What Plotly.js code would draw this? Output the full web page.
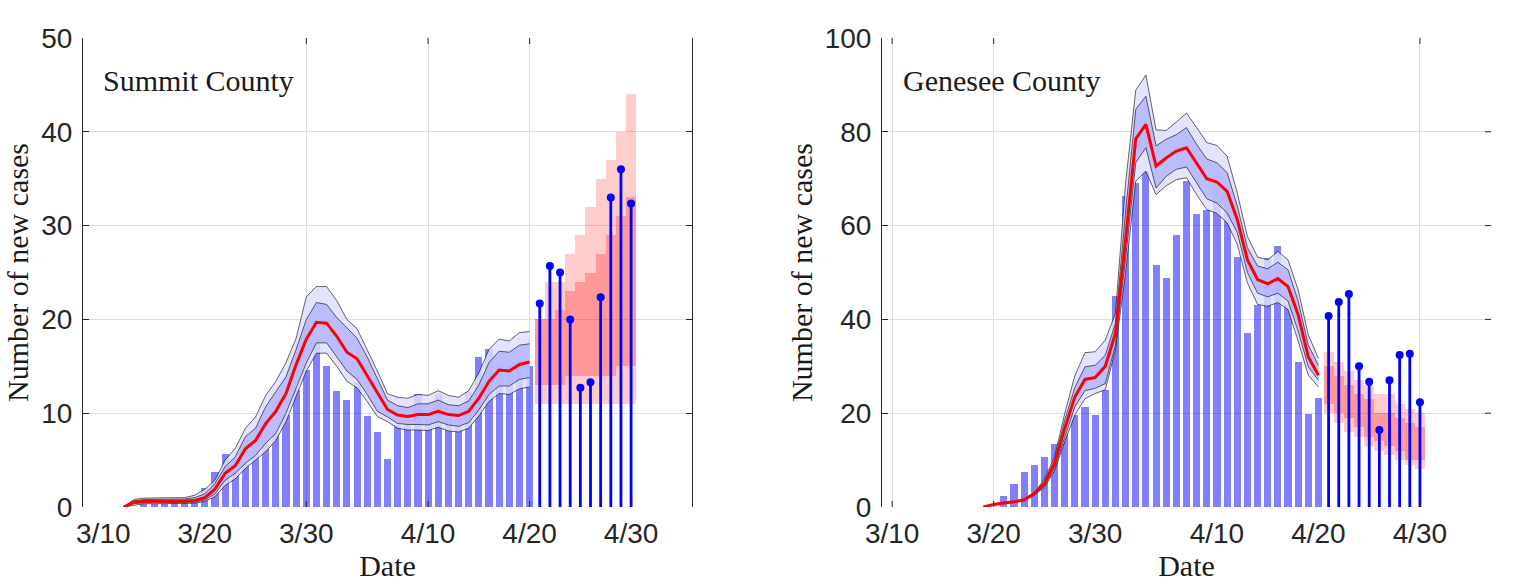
<!DOCTYPE html>
<html>
<head>
<meta charset="utf-8">
<script src="https://cdn.plot.ly/plotly-3.0.1.min.js"></script>
<style>html,body{margin:0;padding:0;background:#fff}</style>
</head>
<body>
<div id="plot" style="width:1519px;height:585px"></div>
<script>
// day index, 0 is the 3/10 tick. the labelled ticks are not evenly spaced in the figure
var allDays = [0,1,2,3,4,5,6,7,8,9,10,11,12,13,14,15,16,17,18,19,20,21,22,23,24,25,26,27,28,29,30,31,32,33,34,35,36,37,38,39,40,41,42,43,44,45,46,47,48,49,50,51,52];
var tickDays = [0,10,20,32,42,52];
var tickLabels = ["3/10","3/20","3/30","4/10","4/20","4/30"];
var gridDaysL = [20,32,42];
var gridDaysR = [0,10,52];

// Summit County, days 2 to 42
var medianL = [0,.5,.6,.6,.6,.6,.65,.7,1,1.9,3.6,4.4,6.2,7.1,8.9,10.2,12.1,15.2,17.9,19.7,19.6,18.2,16.5,15.8,14,12.1,10.4,9.8,9.65,9.85,9.85,10.2,9.85,9.75,10.2,11.6,13.4,14.6,14.5,15.2,15.45];
var outerUpL = [0,.8,.95,.95,.95,.95,1,1.25,1.9,2.85,5,6.25,8.4,9.6,11.9,13.4,15.4,18,22.4,23.5,23.5,22,20,19,16.8,14.5,12.07,11.7,11.6,12,11.9,12.4,11.9,11.7,12.4,14.3,16.8,17.9,17.7,18.6,18.7];
var innerUpL = [0,.65,.8,.8,.8,.8,.85,1,1.4,2.5,4.3,5.35,7.5,8.4,10.7,12.3,13.9,16.8,20,21.8,21.6,20.2,19.1,18,16,13.75,11.4,10.8,10.6,11,11,11.4,10.9,10.8,11.3,13,15.4,16.6,16.5,17.25,17.4];
var innerLoL = [0,.35,.45,.45,.45,.45,.45,.5,.75,1.4,2.85,3.6,4.65,5.5,6.8,7.85,10,12.7,15.35,17.5,17.5,16,14.5,13.6,12,10.2,9.6,8.9,8.8,8.8,8.75,9.1,8.75,8.6,9,10.35,12,12.9,12.9,13.6,13.8];
var outerLoL = [0,.2,.35,.35,.35,.35,.35,.4,.6,1.1,2.3,3,4.1,5,5.9,7.1,9.1,11.8,14.5,16.4,16.4,15,13.4,12.7,11.25,9.65,9.1,8.4,8.2,8.2,8.15,8.5,8.1,8,8.4,9.7,11.25,12.1,12,12.6,12.8];
// days 4 to 42
var barsL = [.3,.3,.3,.4,.4,.6,2,3.7,5.7,4.5,4.6,6,6.8,7.9,9.8,12.5,14.6,17.5,15,12.4,11.4,13.2,9.7,8,5.07,8.75,8.9,12,9.5,12.1,9.5,9.8,12.3,16,16.8,15.3,15,15.7,15];
// days 43 to 52
var stemsL = [21.7,25.7,25,20,12.7,13.3,22.35,33,36,32.35];
var bandOuterTopL = [20,24,24,27,29,32,35,37,40,44];
var bandOuterBotL = [11,11,11,11,11,11,11,11,11,11];
var bandInnerTopL = [20,20,21,23,24,25,27,29,31,33];
var bandInnerBotL = [13,13,13,14,14,14,14,14,15,15];

// Genesee County, days 9 to 42
var medianR = [0,.55,.85,1.1,1.55,2.85,5,9.25,16.7,23.5,27.2,27.6,30,37,57,78.5,81.6,72.7,74.4,75.9,76.6,73.4,70,69.3,67.3,61.3,52.7,48.5,47.6,48.7,47,41,32,28.1];
var outerUpR = [0,.6,.9,1.2,1.6,3,6,10.7,19.9,28,32.9,33.1,35.6,41.3,69,88.9,92.1,80.4,80.3,82.1,84,80.9,77.7,77.1,74.8,67,57.7,53.3,52.7,54.5,52.7,46.3,36.7,31.7];
var innerUpR = [0,.6,.9,1.15,1.6,2.95,5.5,10,18.5,25.5,29.9,30.2,32.4,39.1,63,84.8,87.6,77,78.4,79.4,80.9,77.3,74.2,73.4,71.3,64.2,55.3,51.4,50.8,52.2,50.6,43.9,34.5,30.2];
var innerLoR = [0,.5,.8,1.05,1.45,2.6,4.5,8.2,15,21.4,24.8,25.3,26.3,34.5,53,73.4,76.6,68,70.5,72,72.5,69.1,65.7,64.8,62.7,58.5,50,45.6,44.8,45.6,43.9,37.5,29.9,27];
var outerLoR = [0,.45,.75,1,1.4,2.5,4.2,7.7,13.9,19.6,23.1,24.2,25,33.5,50,69.5,71.6,66.6,68.5,69.8,70.2,66.6,63.4,62.6,60.6,56,47.8,43.2,42.8,43.6,42.1,35.4,28.1,25.6];
// days 11 to 42
var barsR = [2.35,4.8,7.4,9,10.7,13.4,15.7,19.6,21.35,19.7,25,45,66.4,69,71.6,51.7,48.8,58.1,69.6,62.4,63.4,69,67,53.4,37,43,53,55.7,43,31,19.8,23.3];
// days 43 to 52
var stemsR = [40.7,43.7,45.4,30,26.7,16.4,27,32.4,32.7,22.35];
var bandOuterTopR = [33,31,29,27,26,24,24,22,21,20];
var bandOuterBotR = [20,18,16,15,13,12,11,10,9,8];
var bandInnerTopR = [30,28,26,24,23,20,20,19,18,17];
var bandInnerBotR = [22,20,19,17,15,14,13,12,10,10];

var W = 1519, H = 585;
var plotTop = 38, plotBot = 507;
var tickColor = "#262626";
var gridColor = "#dedede";
var tickFont = {family:"Liberation Sans, Arial, sans-serif", size:28, color:"#262626"};
var serifFont = {family:"Liberation Serif, serif", size:30, color:"#1a1a1a"};

function lineTrace(x, y, xa, ya, fill, fillcolor) {
  return {x:x, y:y, xaxis:xa, yaxis:ya, type:"scatter", mode:"lines",
    line:{color:"#000", width:0.6}, fill:fill, fillcolor:fillcolor, hoverinfo:"skip"};
}

function minus(a, b) {
  var out = [];
  for (var i=0; i<a.length; i++) out.push(a[i]-b[i]);
  return out;
}

function zeros(a) {
  var out = [];
  for (var i=0; i<a.length; i++) out.push(0);
  return out;
}

function panel(xa, ya, barDays, bars, days, med, oUp, iUp, iLo, oLo, stems, oTop, oBot, iTop, iBot) {
  var stemDays = allDays.slice(43, 53);
  return [
    {x:barDays, y:bars, xaxis:xa, yaxis:ya, type:"bar", width:0.7, marker:{color:"rgba(0,0,255,0.5)", line:{width:0}}},
    {x:stemDays, y:minus(oTop,oBot), base:oBot, xaxis:xa, yaxis:ya, type:"bar", width:1, marker:{color:"rgba(255,0,0,0.2)", line:{width:0}}},
    {x:stemDays, y:minus(iTop,iBot), base:iBot, xaxis:xa, yaxis:ya, type:"bar", width:1, marker:{color:"rgba(255,0,0,0.25)", line:{width:0}}},
    lineTrace(days, oLo, xa, ya, "none"),
    lineTrace(days, oUp, xa, ya, "tonexty", "rgba(222,222,255,0.85)"),
    lineTrace(days, iLo, xa, ya, "none"),
    lineTrace(days, iUp, xa, ya, "tonexty", "rgba(176,176,255,0.8)"),
    {x:days, y:med, xaxis:xa, yaxis:ya, type:"scatter", mode:"lines", line:{color:"#ff0000", width:3}},
    {x:stemDays, y:stems, xaxis:xa, yaxis:ya, type:"scatter", mode:"markers",
      marker:{color:"#0000ff", size:8},
      error_y:{type:"data", symmetric:false, array:zeros(stems), arrayminus:stems, color:"#0000ff", thickness:2.8, width:0}}
  ];
}

var data = panel("x", "y", allDays.slice(4,43), barsL, allDays.slice(2,43), medianL, outerUpL, innerUpL, innerLoL, outerLoL, stemsL, bandOuterTopL, bandOuterBotL, bandInnerTopL, bandInnerBotL)
  .concat(panel("x2", "y2", allDays.slice(11,43), barsR, allDays.slice(9,43), medianR, outerUpR, innerUpR, innerLoR, outerLoR, stemsR, bandOuterTopR, bandOuterBotR, bandInnerTopR, bandInnerBotR));

function xAxis(left, right, range, grid, anchor) {
  return {
    domain:[left/W, right/W], range:range, anchor:anchor,
    tickmode:"array", tickvals:tickDays, ticktext:tickLabels, ticks:"", showgrid:false, zeroline:false, showline:false,
    tickfont:tickFont, ticklabelstandoff:7,
    minor:{tickmode:"array", tickvals:grid, showgrid:true, gridcolor:gridColor, gridwidth:1, ticks:""},
    title:{text:"Date", font:serifFont, standoff:5}
  };
}

function yAxis(range, vals, anchor, mirror) {
  return {
    domain:[(H-plotBot)/H, (H-plotTop)/H], range:range, anchor:anchor,
    tickmode:"array", tickvals:vals, ticks:"inside", ticklen:6, tickwidth:1, tickcolor:tickColor,
    showline:true, linecolor:tickColor, linewidth:1, mirror:mirror,
    showgrid:true, gridcolor:gridColor, gridwidth:1, zeroline:false,
    tickfont:tickFont, ticklabelstandoff:4,
    title:{text:"Number of new cases", font:serifFont, standoff:3}
  };
}

var shapes = [];
function tickShape(xref, x0, x1, yref, y0, y1) {
  shapes.push({type:"line", xref:xref, x0:x0, x1:x1, yref:yref, y0:y0, y1:y1, line:{color:tickColor, width:1}});
}
var tickH = 6/H;
gridDaysL.forEach(function(d) {
  tickShape("x", d, d, "paper", (H-plotTop)/H, (H-plotTop)/H-tickH);
  tickShape("x", d, d, "paper", (H-plotBot)/H, (H-plotBot)/H+tickH);
});
gridDaysR.forEach(function(d) {
  tickShape("x2", d, d, "paper", (H-plotTop)/H, (H-plotTop)/H-tickH);
  tickShape("x2", d, d, "paper", (H-plotBot)/H, (H-plotBot)/H+tickH);
});
// right hand plot has ticks on the right but no spine
[20,40,60,80].forEach(function(v) {
  tickShape("paper", 1485/W, 1491/W, "y2", v, v);
});

var layout = {
  width:W, height:H, margin:{l:0, r:0, t:0, b:0}, autosize:false,
  paper_bgcolor:"#fff", plot_bgcolor:"#fff", showlegend:false, barmode:"overlay", bargap:0,
  xaxis:xAxis(83, 692, [-2,58], gridDaysL, "y"),
  yaxis:yAxis([0,50], [0,10,20,30,40,50], "x", "ticks"),
  xaxis2:xAxis(882, 1491, [-1,59], gridDaysR, "y2"),
  yaxis2:yAxis([0,100], [0,20,40,60,80,100], "x2", false),
  shapes:shapes,
  annotations:[
    {xref:"paper", yref:"paper", x:101/W, y:(H-81)/H, text:"Summit County", showarrow:false, xanchor:"left", yanchor:"middle", font:serifFont},
    {xref:"paper", yref:"paper", x:901/W, y:(H-81)/H, text:"Genesee County", showarrow:false, xanchor:"left", yanchor:"middle", font:serifFont}
  ]
};

Plotly.newPlot("plot", data, layout, {displayModeBar:false, staticPlot:true});
</script>
</body>
</html>
